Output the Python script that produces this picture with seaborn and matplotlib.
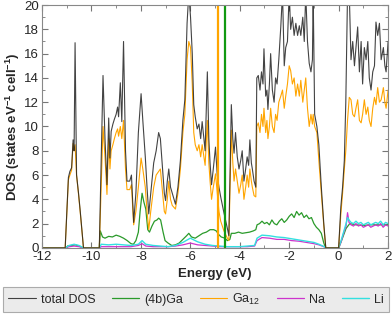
import numpy as np
import pandas as pd
import matplotlib
matplotlib.use("Agg")
import matplotlib.pyplot as plt
import seaborn as sns
from matplotlib.ticker import MultipleLocator

# energy grid shared by total DOS and Ga12 (eV)
energy = [-12, -11.06, -10.93, -10.87, -10.8, -10.74, -10.7, -10.66, -10.6, -10.52, -10.45, -10.32,
          -9.68, -9.53, -9.45, -9.37, -9.30, -9.25, -9.2, -9.13, -9.07, -9.0, -8.94, -8.9, -8.83,
          -8.77, -8.70, -8.62, -8.56, -8.45, -8.38, -8.29, -8.2, -8.1, -7.99, -7.92, -7.82, -7.75,
          -7.68, -7.6, -7.48, -7.38, -7.28, -7.21, -7.14, -7.05, -7.0, -6.93, -6.87, -6.8, -6.73,
          -6.6, -6.5, -6.4, -6.3, -6.22, -6.13, -6.06, -5.99, -5.92, -5.86, -5.8, -5.72, -5.65,
          -5.58, -5.52, -5.45, -5.4, -5.31, -5.25, -5.2, -5.14, -5.07, -4.98, -4.91, -4.84, -4.77,
          -4.64, -4.5, -4.44, -4.34, -4.28, -4.23, -4.17, -4.1, -4.03, -3.96, -3.9, -3.83, -3.76,
          -3.7, -3.64, -3.59, -3.53, -3.49, -3.42, -3.35, -3.31, -3.25, -3.18, -3.12, -3.06, -3.02,
          -2.95, -2.9, -2.86, -2.8, -2.75, -2.68, -2.61, -2.55, -2.49, -2.42, -2.34, -2.27, -2.2,
          -2.14, -2.07, -2.0, -1.94, -1.87, -1.8, -1.73, -1.66, -1.59, -1.53, -1.45, -1.39, -1.33,
          -1.26, -1.19, -1.12, -1.06, -1.03, -0.97, -0.88, -0.8, -0.7, -0.6, -0.52, 0.0, 0.09,
          0.16, 0.23, 0.29, 0.36, 0.43, 0.50, 0.57, 0.64, 0.70, 0.77, 0.84, 0.91, 0.97, 1.04, 1.11,
          1.18, 1.24, 1.31, 1.38, 1.45, 1.51, 1.58, 1.65, 1.72, 1.81, 1.87, 1.92, 2.0]

total_dos = [0, 0, 5.8, 6.3, 6.6, 8.9, 8.0, 16.9, 6.0, 4.5, 3.0, 0,
             0, 14.2, 9.0, 5.2, 10.7, 7.4, 9.6, 10.2, 10.6, 11.0, 11.6, 10.8, 13.6,
             10.4, 17.0, 8.0, 5.5, 5.5, 6.0, 2.1, 4.5, 9.5, 12.7, 10.5, 7.5, 5.0,
             2.8, 4.5, 7.0, 8.0, 9.5, 9.0, 7.0, 4.5, 3.9, 5.5, 6.5, 5.0, 4.5,
             3.6, 5.0, 7.2, 10.5, 12.2, 18.5, 21, 19, 16, 11.8, 10.8, 9.8, 10.2,
             9.0, 10.4, 9.0, 8.0, 14.5, 9.0, 7.0, 5.2, 6.5, 8.3, 6.0, 5.0, 4.2,
             2.9, 1.6, 1.0, 11.8, 9.0, 7.8, 9.5, 7.5, 6.5, 7.2, 8.0, 5.5, 6.5,
             7.5, 6.8, 8.9, 7.0, 6.5, 5.5, 5.0, 14.0, 14.2, 13.0, 14.5, 13.5, 16.4,
             12.5, 13.0, 11.4, 13.5, 16.0, 13.0, 12.0, 14.0, 13.5, 15.5, 18.2, 21, 15.0,
             16.5, 17.0, 21, 18.0, 19.0, 17.5, 18.5, 17.5, 18.3, 17.5, 19.0, 17.0, 21,
             17.0, 15.2, 14.5, 15.5, 21, 11.0, 10.0, 8.5, 5.0, 2.0, 0, 0, 3.4,
             5.0, 7.2, 12.0, 21, 21, 15.5, 17.0, 15.0, 16.5, 18.2, 14.5, 17.0, 13.5, 16.5, 15.5,
             17.0, 14.0, 13.0, 14.5, 15.0, 18.6, 17.5, 18.5, 15.5, 16.5, 15.0, 14.5, 17.0]

ga12_dos = [0, 0, 5.6, 6.0, 6.4, 8.6, 8.0, 8.5, 6.0, 4.4, 2.9, 0,
            0, 10.0, 7.5, 4.4, 9.0, 6.5, 8.0, 8.5, 9.0, 9.5, 9.8, 9.2, 10.0,
            9.0, 10.5, 6.5, 4.8, 4.8, 5.2, 1.9, 3.0, 5.0, 7.4, 6.5, 5.0, 3.0,
            1.5, 3.0, 5.0, 6.0, 6.3, 6.5, 5.0, 3.0, 2.8, 4.0, 5.5, 4.0, 3.5,
            3.2, 4.5, 6.5, 9.5, 11.0, 15.5, 17.0, 16.5, 13.5, 9.5, 8.5, 8.0, 8.5,
            7.5, 8.5, 7.5, 6.8, 10.5, 7.0, 5.5, 4.0, 5.0, 6.1, 4.5, 3.0, 2.2,
            1.4, 0.8, 0.6, 9.7, 7.0, 5.5, 6.5, 5.5, 4.5, 5.2, 6.0, 4.0, 5.0,
            6.0, 5.0, 6.5, 5.5, 5.0, 4.3, 4.2, 10.0, 10.3, 9.5, 11.0, 10.0, 11.5,
            9.5, 10.5, 9.0, 10.0, 11.5, 10.0, 9.5, 11.0, 10.5, 12.0, 12.5, 13.0, 11.5,
            12.5, 13.5, 15.0, 14.6, 13.5, 14.0, 12.5, 13.5, 12.5, 13.8, 12.0, 13.0, 14.0,
            11.5, 10.0, 11.0, 10.2, 11.0, 10.0, 9.5, 7.2, 4.5, 1.8, 0, 0, 2.8,
            4.5, 6.5, 8.0, 10.5, 12.4, 12.2, 11.0, 10.8, 11.5, 12.2, 10.5, 10.3, 11.0, 12.2, 11.0,
            11.6, 10.5, 10.0, 11.5, 12.4, 11.8, 13.2, 12.0, 12.2, 13.2, 12.0, 11.5, 13.0]

energy_4b = [-12, -11.06, -10.95, -10.8, -10.65, -10.5, -10.32, -9.68, -9.64, -9.55, -9.45, -9.3,
             -9.15, -9.0, -8.85, -8.7, -8.55, -8.4, -8.3, -8.2, -8.1, -8.03, -7.95, -7.88, -7.8,
             -7.72, -7.65, -7.55, -7.45, -7.35, -7.28, -7.2, -7.1, -7.02, -6.9, -6.75, -6.6, -6.45,
             -6.3, -6.15, -6.06, -5.95, -5.8, -5.65, -5.5, -5.35, -5.2, -5.05, -4.95, -4.85, -4.75,
             -4.6, -4.5, -4.4, -4.34, -4.2, -4.05, -3.9, -3.75, -3.6, -3.45, -3.35, -3.3, -3.2, -3.1,
             -3.0, -2.9, -2.8, -2.7, -2.6, -2.5, -2.4, -2.3, -2.2, -2.1, -2.0, -1.9, -1.8, -1.7,
             -1.6, -1.5, -1.4, -1.3, -1.2, -1.1, -1.0, -0.9, -0.8, -0.7, -0.6, -0.52, 0.0, 0.1,
             0.3, 0.45, 0.7, 1.0, 1.3, 1.6, 2.0]
ga4b_dos = [0, 0, 0.15, 0.2, 0.25, 0.15, 0, 0, 1.4, 0.9, 0.8, 0.95,
            0.9, 1.05, 0.95, 0.8, 0.6, 0.35, 0.3, 0.6, 1.3, 3.0, 4.5, 3.8, 3.2,
            1.5, 1.3, 1.8, 2.2, 2.3, 2.45, 2.3, 1.3, 0.6, 0.4, 0.2, 0.25, 0.4,
            0.7, 1.0, 1.2, 0.9, 0.8, 1.0, 1.2, 1.3, 1.5, 1.5, 1.4, 1.1, 0.9,
            0.8, 0.6, 0.7, 1.2, 1.2, 1.3, 1.2, 1.25, 1.3, 1.4, 1.5, 1.9, 2.0, 2.2,
            2.0, 2.1, 1.9, 2.3, 2.0, 1.9, 2.2, 2.4, 2.1, 2.3, 2.6, 2.8, 2.5, 3.0,
            2.7, 2.9, 2.5, 2.7, 2.4, 2.5, 2.0, 1.7, 1.5, 1.2, 0.4, 0, 0, 0.5,
            1.6, 2.0, 1.9, 1.85, 1.9, 1.9, 1.9]

energy_alk = [-12, -11.06, -10.9, -10.7, -10.5, -10.32, -9.68, -9.6, -9.3, -9.0, -8.7, -8.4, -8.1,
              -7.95, -7.8, -7.5, -7.2, -6.9, -6.6, -6.3, -6.0, -5.7, -5.4, -5.1, -4.8, -4.5, -4.3,
              -4.0, -3.7, -3.4, -3.3, -3.1, -2.8, -2.5, -2.2, -1.9, -1.6, -1.3, -1.0, -0.8, -0.6,
              -0.52, 0.0, 0.1, 0.2, 0.3, 0.36, 0.42, 0.5, 0.6, 0.7, 0.8, 0.9, 1.0, 1.1, 1.2, 1.3,
              1.4, 1.5, 1.6, 1.7, 1.8, 1.9, 2.0]
na_dos = [0, 0, 0.1, 0.15, 0.1, 0, 0, 0.1, 0.1, 0.1, 0.1, 0.1, 0.2,
          0.35, 0.15, 0.1, 0.1, 0.1, 0.15, 0.25, 0.4, 0.25, 0.2, 0.15, 0.1, 0.1, 0.1,
          0.1, 0.1, 0.15, 0.6, 0.85, 0.8, 0.7, 0.7, 0.6, 0.55, 0.45, 0.35, 0.25, 0.1,
          0, 0, 0.5, 1.2, 1.8, 2.9, 2.1, 1.9, 1.8, 2.0, 1.8, 1.9, 1.7, 1.8, 1.9, 1.7,
          1.8, 1.9, 1.8, 2.0, 1.7, 1.9, 1.8]
li_dos = [0, 0, 0.2, 0.3, 0.2, 0, 0, 0.3, 0.25, 0.3, 0.25, 0.2, 0.3,
          0.6, 0.3, 0.2, 0.15, 0.1, 0.2, 0.45, 0.8, 0.5, 0.3, 0.2, 0.15, 0.1, 0.1,
          0.1, 0.15, 0.2, 0.8, 1.05, 1.0, 0.9, 0.85, 0.75, 0.65, 0.55, 0.45, 0.3, 0.12,
          0, 0, 0.6, 1.3, 2.0, 2.5, 2.3, 2.1, 2.0, 2.2, 2.0, 2.1, 1.9, 2.0, 2.1, 1.9,
          2.0, 2.1, 2.0, 2.2, 1.9, 2.1, 2.0]

# vertical marker lines (eV)
vline_ga12 = -4.87
vline_ga4b = -4.58

sns.set_style("ticks")
plt.rcParams['font.family'] = ['Liberation Sans', 'DejaVu Sans']
plt.rcParams['font.size'] = 9.5
plt.rcParams['axes.unicode_minus'] = False
plt.rcParams['mathtext.fontset'] = 'custom'
plt.rcParams['mathtext.rm'] = 'Liberation Sans'
plt.rcParams['mathtext.bf'] = 'Liberation Sans:bold'

fig = plt.figure(figsize=(3.92, 3.17), dpi=100)
ax = fig.add_axes([0.107, 0.218, 0.883, 0.766])

c_tot, c_4b, c_12, c_na, c_li = "#222222", "#2a9a2a", "#ffa500", "#cc33cc", "#33e0e0"

sns.lineplot(x=energy_4b, y=ga4b_dos, ax=ax, color=c_4b, lw=0.9, estimator=None, label="(4b)Ga")
sns.lineplot(x=energy_alk, y=na_dos, ax=ax, color=c_na, lw=0.9, estimator=None, label="Na")
sns.lineplot(x=energy_alk, y=li_dos, ax=ax, color=c_li, lw=1.0, estimator=None, label="Li")
sns.lineplot(x=energy, y=ga12_dos, ax=ax, color=c_12, lw=0.8, estimator=None, label="Ga$_{12}$")
sns.lineplot(x=energy, y=total_dos, ax=ax, color=c_tot, lw=0.8, estimator=None, label="total DOS", alpha=0.85)
ax.axvline(vline_ga12, color=c_12, lw=1.6)
ax.axvline(vline_ga4b, color="#119911", lw=1.6)

ax.set_xlim(-12, 2)
ax.set_ylim(0, 20)
ax.xaxis.set_major_locator(MultipleLocator(2))
ax.xaxis.set_minor_locator(MultipleLocator(1))
ax.yaxis.set_major_locator(MultipleLocator(2))
ax.yaxis.set_minor_locator(MultipleLocator(1))
ax.tick_params(which="both", direction="in", top=True, right=True, color="#777777", labelsize=9.5, pad=2)
ax.tick_params(which="major", length=4)
ax.tick_params(which="minor", length=2.5)
for s in ax.spines.values():
    s.set_color("#888888")
ax.set_xlabel("Energy (eV)", fontweight="bold", fontsize=9.5, labelpad=4)
ax.set_ylabel("DOS (states eV$^{\\mathbf{-1}}$ cell$^{\\mathbf{-1}}$)", fontweight="bold", fontsize=9.5, labelpad=2)

ax.get_legend().remove()
h, l = ax.get_legend_handles_labels()
order = ["total DOS", "(4b)Ga", "Ga$_{12}$", "Na", "Li"]
hd = dict(zip(l, h))
leg = fig.legend([hd[k] for k in order], order, loc="lower left", ncol=5,
                 bbox_to_anchor=(0.008, 0.016, 0.984, 0.085), mode="expand",
                 frameon=True, fancybox=False, facecolor="#e6e6e6", edgecolor="#999999",
                 fontsize=9, handlelength=2.2, handletextpad=0.4, columnspacing=1.0,
                 borderaxespad=0.0)
leg.get_frame().set_linewidth(0.8)

fig.savefig("out.png", dpi=100)
